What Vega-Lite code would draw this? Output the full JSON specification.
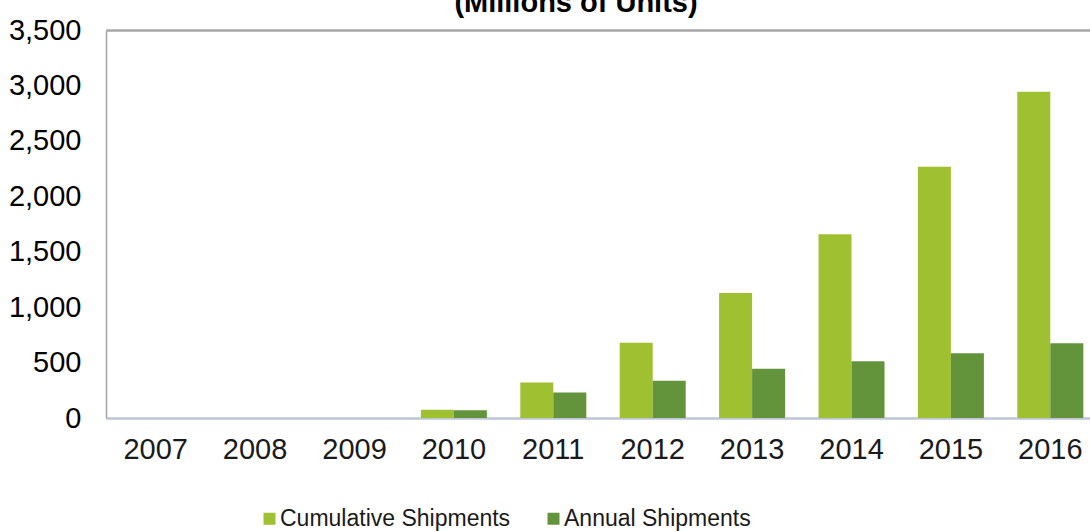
{
  "$schema": "https://vega.github.io/schema/vega-lite/v6.json",
  "width": 984,
  "height": 388,
  "autosize": {"type": "none"},
  "padding": {"left": 106, "top": 30, "right": 0, "bottom": 113},
  "background": "white",
  "title": {
    "text": "(Millions of Units)",
    "font": "Liberation Sans",
    "fontSize": 29,
    "fontWeight": "bold",
    "color": "#000000",
    "anchor": "middle",
    "dx": -22,
    "offset": -2
  },
  "config": {
    "view": {"stroke": null},
    "font": "Liberation Sans"
  },
  "data": {
    "values": [
      {"year": "2007", "series": "Cumulative Shipments", "value": 0},
      {"year": "2007", "series": "Annual Shipments", "value": 0},
      {"year": "2008", "series": "Cumulative Shipments", "value": 0},
      {"year": "2008", "series": "Annual Shipments", "value": 0},
      {"year": "2009", "series": "Cumulative Shipments", "value": 0},
      {"year": "2009", "series": "Annual Shipments", "value": 0},
      {"year": "2010", "series": "Cumulative Shipments", "value": 74},
      {"year": "2010", "series": "Annual Shipments", "value": 70},
      {"year": "2011", "series": "Cumulative Shipments", "value": 320},
      {"year": "2011", "series": "Annual Shipments", "value": 230},
      {"year": "2012", "series": "Cumulative Shipments", "value": 678},
      {"year": "2012", "series": "Annual Shipments", "value": 335},
      {"year": "2013", "series": "Cumulative Shipments", "value": 1128},
      {"year": "2013", "series": "Annual Shipments", "value": 444},
      {"year": "2014", "series": "Cumulative Shipments", "value": 1658},
      {"year": "2014", "series": "Annual Shipments", "value": 512},
      {"year": "2015", "series": "Cumulative Shipments", "value": 2266},
      {"year": "2015", "series": "Annual Shipments", "value": 585},
      {"year": "2016", "series": "Cumulative Shipments", "value": 2942},
      {"year": "2016", "series": "Annual Shipments", "value": 675}
    ]
  },
  "mark": {"type": "bar"},
  "encoding": {
    "x": {
      "field": "year",
      "type": "ordinal",
      "scale": {"range": [0, 994], "paddingInner": 0.336, "paddingOuter": 0.168},
      "axis": {
        "title": null,
        "labelAngle": 0,
        "labelFont": "Liberation Sans",
        "labelFontSize": 29,
        "labelColor": "#1a1a1a",
        "labelPadding": 17,
        "ticks": false,
        "domainColor": "#bcc6d4",
        "domainWidth": 2.5
      }
    },
    "xOffset": {
      "field": "series",
      "type": "nominal",
      "sort": ["Cumulative Shipments", "Annual Shipments"],
      "scale": {"paddingInner": 0, "paddingOuter": 0}
    },
    "y": {
      "field": "value",
      "type": "quantitative",
      "scale": {"domain": [0, 3500], "nice": false},
      "axis": {
        "title": null,
        "values": [0, 500, 1000, 1500, 2000, 2500, 3000, 3500],
        "format": ",.0f",
        "labelFont": "Liberation Sans",
        "labelFontSize": 29,
        "labelColor": "#000000",
        "labelPadding": 25,
        "ticks": false,
        "domainColor": "#a0a4aa",
        "domainWidth": 1.5,
        "grid": true,
        "gridColor": {"condition": {"test": "datum.value === 3500", "value": "#a6a6a6"}, "value": "transparent"},
        "gridWidth": 2.5
      }
    },
    "color": {
      "field": "series",
      "type": "nominal",
      "scale": {
        "domain": ["Cumulative Shipments", "Annual Shipments"],
        "range": ["#9fc031", "#63933b"]
      },
      "legend": {
        "title": null,
        "orient": "none",
        "direction": "horizontal",
        "legendX": 152,
        "legendY": 477,
        "padding": 0,
        "symbolType": "square",
        "symbolSize": 144,
        "symbolStrokeWidth": 0,
        "labelFont": "Liberation Sans",
        "labelFontSize": 23,
        "labelColor": "#1a1a1a",
        "labelOffset": -1,
        "columnPadding": 31,
        "labelLimit": 400
      }
    }
  }
}
